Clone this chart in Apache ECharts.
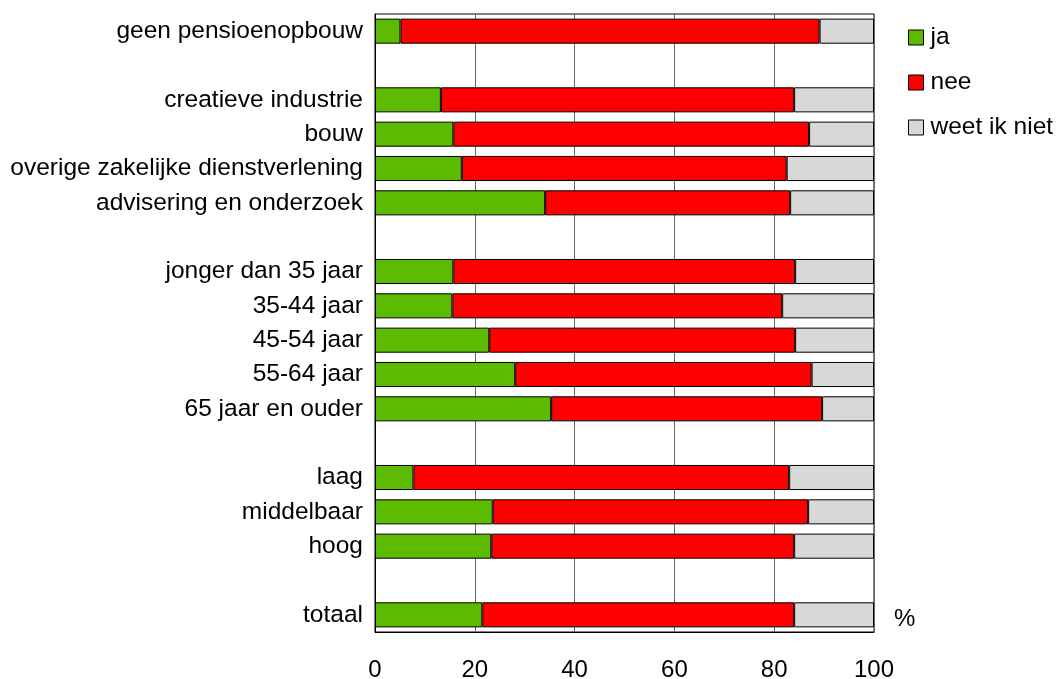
<!DOCTYPE html>
<html>
<head>
<meta charset="utf-8">
<script src="https://cdn.jsdelivr.net/npm/echarts@6/dist/echarts.min.js"></script>
<style>
  html, body { margin: 0; padding: 0; background: #fff; }
  #chart { width: 1058px; height: 679px; }
</style>
</head>
<body>
<div id="chart"></div>
<script>
// rijen van boven naar beneden, lege rijen als scheiding
const categories = [
  'geen pensioenopbouw', '',
  'creatieve industrie', 'bouw', 'overige zakelijke dienstverlening', 'advisering en onderzoek', '',
  'jonger dan 35 jaar', '35-44 jaar', '45-54 jaar', '55-64 jaar', '65 jaar en ouder', '',
  'laag', 'middelbaar', 'hoog', '',
  'totaal'
];
const ja = [5.1, '-', 13.2, 15.7, 17.4, 34.1, '-', 15.7, 15.5, 22.9, 28.1, 35.3, '-', 7.7, 23.6, 23.3, '-', 21.5];
const nee = [84.0, '-', 70.8, 71.3, 65.1, 49.1, '-', 68.5, 66.1, 61.3, 59.4, 54.3, '-', 75.3, 63.2, 60.7, '-', 62.5];
const weetIkNiet = [10.9, '-', 16.0, 13.0, 17.5, 16.8, '-', 15.8, 18.4, 15.8, 12.5, 10.4, '-', 17.0, 13.2, 16.0, '-', 16.0];
const xTicks = [0, 20, 40, 60, 80, 100];

const chart = echarts.init(document.getElementById('chart'));
const font = 'Liberation Sans, Arial, Helvetica, sans-serif';

function bar(name, data, color) {
  return {
    name: name,
    type: 'bar',
    stack: 'totaal',
    data: data,
    barWidth: '73%',
    itemStyle: { color: color, borderColor: '#000', borderWidth: 1 },
    emphasis: { disabled: true }
  };
}

chart.setOption({
  animation: false,
  textStyle: { fontFamily: font },
  grid: {
    left: 375, right: 184, top: 14, height: 618,
    outerBoundsMode: 'none',
    show: true, borderColor: '#000', borderWidth: 1
  },
  legend: {
    orient: 'vertical',
    left: 903, top: 20,
    itemWidth: 15, itemHeight: 15,
    itemGap: 20,
    icon: 'rect',
    itemStyle: { borderColor: '#000', borderWidth: 1 },
    textStyle: { fontSize: 24.5, color: '#000', fontFamily: font, padding: [0, 0, 0, 2] },
    data: ['ja', 'nee', 'weet ik niet']
  },
  xAxis: {
    type: 'value',
    min: xTicks[0], max: xTicks[xTicks.length - 1], interval: 20,
    axisLine: { show: true, lineStyle: { color: '#000' } },
    axisTick: { show: false },
    splitLine: { show: true, lineStyle: { color: '#666', width: 1 } },
    axisLabel: { fontSize: 24, color: '#000', margin: 26 }
  },
  yAxis: {
    type: 'category',
    inverse: true,
    data: categories,
    axisLine: { show: true, lineStyle: { color: '#000' } },
    axisTick: { show: false },
    axisLabel: { fontSize: 24.5, color: '#000', margin: 12, padding: [4, 0, 0, 0] }
  },
  graphic: [{
    type: 'text', left: 894, top: 607,
    style: { text: '%', fontSize: 24, fill: '#000', fontFamily: font }
  }],
  series: [
    bar('ja', ja, '#5cba00'),
    bar('nee', nee, '#ff0000'),
    bar('weet ik niet', weetIkNiet, '#d8d8d8')
  ]
});
</script>
</body>
</html>
